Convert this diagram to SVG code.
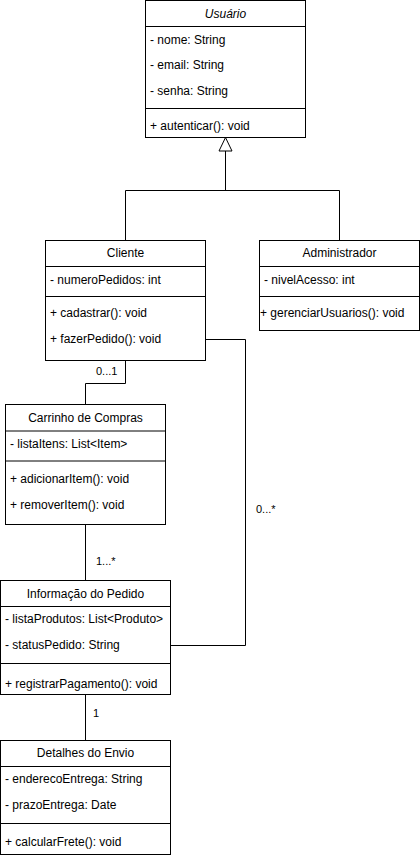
<svg xmlns="http://www.w3.org/2000/svg" width="420" height="858" viewBox="0 0 420 858">
<style>
rect.box{fill:#fff;stroke:#000;stroke-width:1}
line.sep,path.edge{stroke:#000;stroke-width:1;fill:none}
text{font-family:"Liberation Sans",Arial,sans-serif;font-size:12px;fill:#000}
.title{text-anchor:middle}
.it{font-style:italic}
.lbl{font-size:11px}
</style>
<defs>
<marker id="gen" markerWidth="14" markerHeight="16" refX="7" refY="1" orient="auto" markerUnits="userSpaceOnUse" viewBox="0 0 14 16">
<path d="M7,1 L13,14 L1,14 Z" fill="#fff" stroke="#000" stroke-width="1"/>
</marker>
</defs>
<rect width="420" height="858" fill="#fff"/>
<g id="connectors">
<path class="edge" d="M125.5,240 V190.5 H339.5 V240"/>
<path class="edge" d="M225.5,190.5 V151"/>
<path d="M225.5,137.5 L232,151 L219,151 Z" fill="#fff" stroke="#000"/>
<path class="edge" d="M125.5,360 V383.5 H85.5 V404"/>
<text class="lbl" x="96" y="375">0...1</text>
<path class="edge" d="M205,339.5 H245.5 V645.5 H171"/>
<text class="lbl" x="256" y="513">0...*</text>
<path class="edge" d="M85.5,525 V580"/>
<text class="lbl" x="96" y="565">1...*</text>
<path class="edge" d="M85.5,694 V740"/>
<text class="lbl" x="93" y="717">1</text>
</g>
<g id="usuario">
<rect class="box" x="145.5" y="0.5" width="160" height="137"/>
<line class="sep" x1="145.5" y1="26.5" x2="305.5" y2="26.5"/>
<line class="sep" x1="145.5" y1="108.5" x2="305.5" y2="108.5"/>
<text class="title it" x="225.5" y="18">Usuário</text>
<text x="150" y="44">- nome: String</text>
<text x="150" y="69">- email: String</text>
<text x="150" y="95">- senha: String</text>
<text x="150" y="130">+ autenticar(): void</text>
</g>
<g id="cliente">
<rect class="box" x="45.5" y="240.5" width="160" height="120"/>
<line class="sep" x1="45.5" y1="266.5" x2="205.5" y2="266.5"/>
<line class="sep" x1="45.5" y1="296.5" x2="205.5" y2="296.5"/>
<text class="title" x="125.5" y="257">Cliente</text>
<text x="50" y="284">- numeroPedidos: int</text>
<text x="50" y="317">+ cadastrar(): void</text>
<text x="50" y="343">+ fazerPedido(): void</text>
</g>
<g id="administrador">
<rect class="box" x="259.5" y="240.5" width="160" height="90"/>
<line class="sep" x1="259.5" y1="266.5" x2="419.5" y2="266.5"/>
<line class="sep" x1="259.5" y1="296.5" x2="419.5" y2="296.5"/>
<text class="title" x="339.5" y="257">Administrador</text>
<text x="264" y="284">- nivelAcesso: int</text>
<text x="260" y="317">+ gerenciarUsuarios(): void</text>
</g>
<g id="carrinho">
<rect class="box" x="5.5" y="404.5" width="160" height="120"/>
<line class="sep" x1="5.5" y1="431" x2="165.5" y2="431"/>
<line class="sep" x1="5.5" y1="461" x2="165.5" y2="461"/>
<text class="title" x="85.5" y="422">Carrinho de Compras</text>
<text x="10" y="448">- listaItens: List&lt;Item&gt;</text>
<text x="10" y="483">+ adicionarItem(): void</text>
<text x="10" y="509">+ removerItem(): void</text>
</g>
<g id="informacao">
<rect class="box" x="0.5" y="580.5" width="170" height="114"/>
<line class="sep" x1="0.5" y1="606.5" x2="170.5" y2="606.5"/>
<line class="sep" x1="0.5" y1="663.5" x2="170.5" y2="663.5"/>
<text class="title" x="85.5" y="598">Informação do Pedido</text>
<text x="5" y="623">- listaProdutos: List&lt;Produto&gt;</text>
<text x="5" y="649">- statusPedido: String</text>
<text x="5" y="688">+ registrarPagamento(): void</text>
</g>
<g id="detalhes">
<rect class="box" x="0.5" y="740.5" width="170" height="114"/>
<line class="sep" x1="0.5" y1="766.5" x2="170.5" y2="766.5"/>
<line class="sep" x1="0.5" y1="823.5" x2="170.5" y2="823.5"/>
<text class="title" x="85.5" y="757">Detalhes do Envio</text>
<text x="5" y="783">- enderecoEntrega: String</text>
<text x="5" y="809">- prazoEntrega: Date</text>
<text x="5" y="846">+ calcularFrete(): void</text>
</g>
</svg>
